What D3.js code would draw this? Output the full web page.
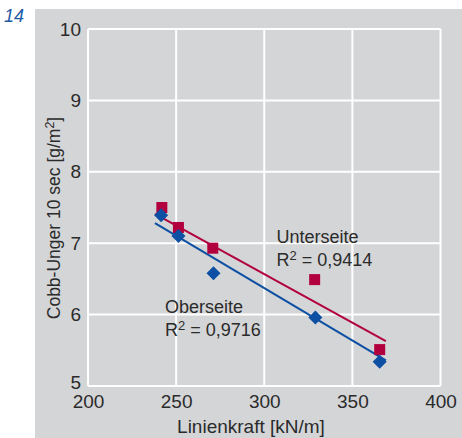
<!DOCTYPE html>
<html><head><meta charset="utf-8">
<script src="https://cdn.jsdelivr.net/npm/d3@7"></script>
<style>
body{margin:0;background:#fff;}
text{font-family:"Liberation Sans",Arial,sans-serif;}
</style></head>
<body><svg id="c" width="462" height="438"></svg>
<script>
const xTicks = [200, 250, 300, 350, 400];
const yTicks = [5, 6, 7, 8, 9, 10];
const oberX = [241.5, 251.3, 271.2, 329.0, 365.5];
const oberY = [7.39, 7.10, 6.58, 5.96, 5.34];
const unterX = [241.9, 251.3, 270.8, 328.6, 365.5];
const unterY = [7.50, 7.22, 6.93, 6.49, 5.51];
const trendX = [238, 369];
const trendOber = [7.28, 5.36];
const trendUnter = [7.41, 5.63];
const labels = ["Unterseite", "R² = 0,9414", "Oberseite", "R² = 0,9716"];

const svg = d3.select("#c");
const gray = "#d4d5d7", txt = "#2b2b2b";
const red = "#b2003f", blue = "#0c4fa3";
svg.append("rect").attr("x",35).attr("y",9).attr("width",427).attr("height",429).attr("fill",gray);
svg.append("text").attr("x",4).attr("y",22).attr("fill","#1d5ba6").attr("font-size",18)
  .attr("font-style","italic").text("14");

const x = d3.scaleLinear().domain([200,400]).range([88,440.5]);
const y = d3.scaleLinear().domain([5,10]).range([386,29]);

const grid = svg.append("g").attr("stroke","#fff").attr("stroke-width",2);
xTicks.forEach(t=>grid.append("line").attr("x1",x(t)).attr("x2",x(t)).attr("y1",y(5)).attr("y2",y(10)));
yTicks.forEach(t=>grid.append("line").attr("y1",y(t)).attr("y2",y(t)).attr("x1",x(200)).attr("x2",x(400)));

const xa = svg.append("g").attr("transform",`translate(0,${y(5)})`)
  .call(d3.axisBottom(x).tickValues(xTicks).tickSize(0).tickPadding(7).tickFormat(d3.format("d")));
xa.select(".domain").remove();
xa.selectAll("text").attr("font-size",19).attr("fill",txt).attr("dy","0.8em");
const ya = svg.append("g").attr("transform",`translate(${x(200)},0)`)
  .call(d3.axisLeft(y).tickValues(yTicks).tickSize(0).tickPadding(7).tickFormat(d3.format("d")));
ya.select(".domain").remove();
ya.selectAll("text").attr("font-size",19).attr("fill",txt);
ya.selectAll("text").filter(d=>d===5).attr("dy","0.15em");

svg.append("text").attr("x",251).attr("y",433).attr("text-anchor","middle").attr("font-size",19)
  .attr("fill",txt).text("Linienkraft [kN/m]");
svg.append("text").attr("transform","translate(60,218) rotate(-90)").attr("text-anchor","middle")
  .attr("font-size",17.5).attr("fill",txt)
  .html('Cobb-Unger 10 sec [g/m<tspan dy="-6" font-size="12.5">2</tspan><tspan dy="6">]</tspan>');

const line = d3.line().x(d=>x(d[0])).y(d=>y(d[1]));
svg.append("path").attr("d",line(trendX.map((v,i)=>[v,trendOber[i]]))).attr("stroke",blue).attr("stroke-width",2).attr("fill","none");
svg.append("path").attr("d",line(trendX.map((v,i)=>[v,trendUnter[i]]))).attr("stroke",red).attr("stroke-width",2).attr("fill","none");

svg.selectAll(".sq").data(unterX.map((v,i)=>[v,unterY[i]])).enter().append("rect")
  .attr("x",d=>x(d[0])-5.5).attr("y",d=>y(d[1])-5.5).attr("width",11).attr("height",11).attr("fill",red);
const sym = d3.symbol().type(d3.symbolSquare).size(98);
svg.selectAll(".dm").data(oberX.map((v,i)=>[v,oberY[i]])).enter().append("path")
  .attr("d",sym).attr("transform",d=>`translate(${x(d[0])},${y(d[1])}) rotate(45)`).attr("fill",blue);

const lab = [[276.5,243],[276.5,266],[165,312.5],[165,336]];
labels.forEach((s,i)=>{
  const t = svg.append("text").attr("x",lab[i][0]).attr("y",lab[i][1]).attr("font-size",18).attr("fill",txt);
  if (s.startsWith("R²")) {
    t.text("R");
    t.append("tspan").attr("dy",-6).attr("font-size",13).text("2");
    t.append("tspan").attr("dy",6).text(s.slice(2));
  } else t.text(s);
});
</script></body></html>
